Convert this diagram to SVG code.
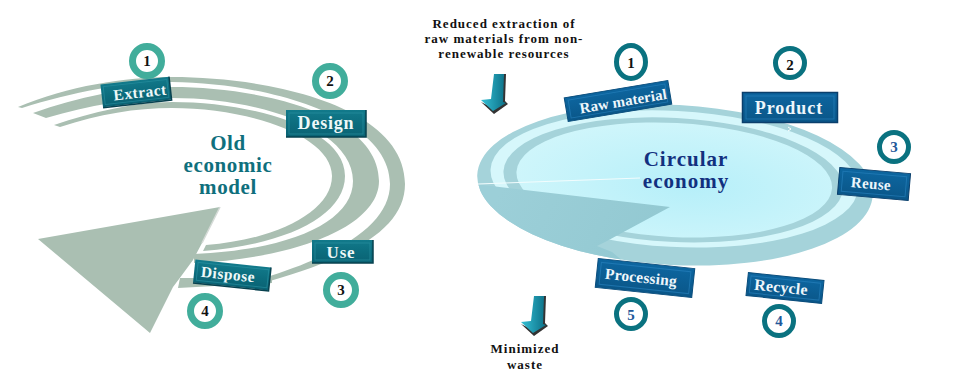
<svg xmlns="http://www.w3.org/2000/svg" width="964" height="383" viewBox="0 0 964 383">
  <style>
    text { font-family: "Liberation Serif", "Times New Roman", serif; font-weight: bold; text-anchor: middle; }
    .band { fill: #aabfb2; }
    .note { font-size: 13px; fill: #111; letter-spacing: 1px; }
    .lab { fill: #eef8f8; }
    .rl { fill: #eef6fb; }
    .ol { stroke: #41ad9b; stroke-width: 7; fill: #fff; }
    .cr { stroke: #0a7280; stroke-width: 5; fill: #fff; }
    .n { font-size: 15px; fill: #111; }
    .nb { font-size: 15px; fill: #22589a; }
    .bt { fill: none; stroke: #2b93a4; stroke-width: 1; stroke-opacity: 0.6; }
    .bb { fill: none; stroke: #2a83c0; stroke-width: 1; stroke-opacity: 0.6; }
    .edge { fill: none; stroke: #07414f; stroke-width: 1.5; }
  </style>
  <defs>
    <linearGradient id="teal" x1="0" y1="0" x2="0" y2="1">
      <stop offset="0" stop-color="#127a8b"/>
      <stop offset="0.5" stop-color="#0c6d7e"/>
      <stop offset="1" stop-color="#0a6273"/>
    </linearGradient>
    <linearGradient id="blue" x1="0" y1="0" x2="0" y2="1">
      <stop offset="0" stop-color="#0d66a0"/>
      <stop offset="1" stop-color="#0a5688"/>
    </linearGradient>
    <radialGradient id="pool" cx="0.55" cy="0.55" r="0.6">
      <stop offset="0" stop-color="#b6eff9"/>
      <stop offset="1" stop-color="#d0f6fb"/>
    </radialGradient>
    <linearGradient id="wedge" gradientUnits="userSpaceOnUse" x1="500" y1="190" x2="640" y2="260">
      <stop offset="0" stop-color="#9ccfd8"/>
      <stop offset="1" stop-color="#93c9d2"/>
    </linearGradient>
    <linearGradient id="shaft" x1="0" y1="0" x2="1" y2="0">
      <stop offset="0" stop-color="#34c1d6"/>
      <stop offset="1" stop-color="#0c6f86"/>
    </linearGradient>
    <clipPath id="pool-edge">
      <ellipse cx="675" cy="185" rx="198" ry="80" transform="rotate(3 675 185)"/>
    </clipPath>
    <g id="drop">
      <path fill="#333" d="M504,74 L506,74 L505,101 L508,104 L494,114 L481,102 L493,108 Z"/>
      <path fill="url(#shaft)" d="M494,74 L504,74 L503,102 L506,103 L493,111 L481,100 L491,99 Z"/>
    </g>
  </defs>

  <g id="old-model-arcs">
    <path class="band" d="M18,107 C68,86 125,77 172,77 C270,77 405,106 405,184 C405,226 358,256 270,281 L270,276 C345,252 390,222 390,184 C390,118 270,83 172,82 C125,82 72,92 22,108 Z"/>
    <path class="band" d="M33,113 C78,97 125,87 172,87 C262,87 379,115 379,181 C379,225 300,258 194,263 L194,254 C290,250 353,222 353,181 C353,130 262,98 172,98 C130,98 90,105 46,118 Z"/>
    <path class="band" d="M54,125 C92,112 135,102 172,102 C252,102 345,128 345,176 C345,216 285,245 203,251 L206,245 C275,240 332,212 332,176 C332,136 250,108 172,108 C135,108 100,114 60,127 Z"/>
    <path class="band" d="M180,278 L272,278 L272,283 L178,288 Z"/>
    <path fill="#aabfb2" d="M38,239 L220,207 L202,243 L193,260 L182,275 L173,287 L150,333 Z"/>
    <path fill="none" stroke="#d5dad7" stroke-width="1.5" d="M220,207 L202,243"/>
  </g>

  <g id="circular-pool">
    <g transform="rotate(3 675 185)">
      <ellipse cx="675" cy="185" rx="198" ry="80" fill="#a5d3da"/>
      <ellipse cx="674" cy="179" rx="184" ry="68" fill="#d6f7fb"/>
      <ellipse cx="673" cy="180" rx="170" ry="62" fill="#a5d3da"/>
      <ellipse cx="674" cy="180" rx="158" ry="57" fill="url(#pool)"/>
    </g>
    <path clip-path="url(#pool-edge)" fill="url(#wedge)" d="M470,183.500 L670,207 L618,235 L607,241 L597,246 L612,252 L640,275 L470,275 Z"/>
    <path fill="none" stroke="#f2fcfd" stroke-width="1" d="M478,184 L640,178"/>
    <path fill="none" stroke="#fff" stroke-width="1" d="M788,127 L791,129 L788,131"/>
  </g>

  <g id="connectors">
    <use href="#drop"/>
    <use href="#drop" x="40" y="222"/>
  </g>

  <g id="note-extraction">
    <text class="note" x="504" y="28">Reduced extraction of</text>
    <text class="note" x="504" y="43">raw materials from non-</text>
    <text class="note" x="504" y="58">renewable resources</text>
  </g>
  <g id="note-waste">
    <text class="note" x="525" y="353">Minimized</text>
    <text class="note" x="525" y="369">waste</text>
  </g>

  <g id="title-old"><text x="228" y="150" font-size="21" fill="#0f6f7d" letter-spacing="0.6">Old</text>
    <text x="228" y="172" font-size="21" fill="#0f6f7d" letter-spacing="0.6">economic</text>
    <text x="228" y="194" font-size="21" fill="#0f6f7d" letter-spacing="0.6">model</text></g>
  <g id="title-circular"><text x="686" y="166" font-size="21" fill="#12307f" letter-spacing="1">Circular</text>
    <text x="686" y="188" font-size="21" fill="#12307f" letter-spacing="1">economy</text></g>

  <g id="extract">
    <circle class="ol" cx="147" cy="61" r="14.5"/><text class="n" x="147" y="66">1</text>
    <g transform="rotate(-6.5 136 92)">
      <rect x="101.500" y="80.500" width="69" height="23" fill="url(#teal)"/>
      <rect class="bt" x="104" y="83" width="64" height="18"/>
      <path class="edge" d="M101.500,104 H170.500 V80.500"/>
      <text class="lab" x="140" y="98" font-size="15.500" letter-spacing="0.5">Extract</text>
    </g>
  </g>
  <g id="design">
    <circle class="ol" cx="330" cy="81" r="14.500"/><text class="n" x="330" y="86">2</text>
    <rect x="286" y="110" width="80" height="27" fill="url(#teal)"/>
    <rect class="bt" x="289" y="113" width="74" height="21"/>
    <path class="edge" d="M286,137 H366 V110"/>
    <text class="lab" x="326" y="129" font-size="18" letter-spacing="0.8">Design</text>
  </g>
  <g id="use">
    <circle class="ol" cx="341" cy="290" r="14.500"/><text class="n" x="341" y="295">3</text>
    <rect x="312" y="240" width="61" height="23" fill="url(#teal)"/>
    <rect class="bt" x="315" y="243" width="55" height="17"/>
    <path class="edge" d="M312,263 H373 V240"/>
    <text class="lab" x="341" y="258" font-size="17" letter-spacing="0.8">Use</text>
  </g>
  <g id="dispose">
    <circle class="ol" cx="205" cy="311" r="14.500"/><text class="n" x="205" y="316">4</text>
    <g transform="rotate(6 232 275)">
      <rect x="194" y="263.500" width="76" height="23" fill="url(#teal)"/>
      <rect class="bt" x="197" y="266" width="71" height="18"/>
      <path class="edge" d="M194,287 H270 V263.500"/>
      <text class="lab" x="228" y="280" font-size="15.500" letter-spacing="0.5">Dispose</text>
    </g>
  </g>

  <g id="raw-material">
    <ellipse class="cr" cx="631" cy="62" rx="14.500" ry="16.500"/><text class="n" x="631" y="68">1</text>
    <g transform="rotate(-9.500 618 101)">
      <rect x="565.500" y="89" width="105" height="24" fill="url(#blue)" stroke="#0a4d7c" stroke-width="1"/>
      <rect class="bb" x="569" y="92" width="98" height="18"/>
      <text class="rl" x="623" y="107" font-size="15" letter-spacing="0.1">Raw material</text>
    </g>
  </g>
  <g id="product">
    <circle class="cr" cx="790" cy="63" r="14.500"/><text class="n" x="790" y="70">2</text>
    <rect x="742.500" y="92.500" width="95" height="30" fill="url(#blue)" stroke="#0a3f6c" stroke-width="1.500"/>
    <rect class="bb" x="746" y="96" width="88" height="23"/>
    <text class="rl" x="789" y="114" font-size="18" letter-spacing="1">Product</text>
  </g>
  <g id="reuse">
    <circle class="cr" cx="894" cy="147" r="14.500"/><text class="nb" x="894" y="152">3</text>
    <g transform="rotate(5 874 184)">
      <rect x="838.500" y="170.500" width="71" height="27" fill="url(#blue)" stroke="#0a3f6c" stroke-width="1"/>
      <rect class="bb" x="842" y="174" width="64" height="20"/>
      <text class="rl" x="871" y="189" font-size="15" letter-spacing="0.4">Reuse</text>
    </g>
  </g>
  <g id="recycle">
    <circle class="cr" cx="779" cy="321" r="14.500"/><text class="nb" x="779" y="326">4</text>
    <g transform="rotate(6 785 288)">
      <rect x="747" y="276.500" width="76" height="23" fill="url(#blue)" stroke="#0a4d7c" stroke-width="1"/>
      <rect class="bb" x="750" y="279.500" width="70" height="17"/>
      <text class="rl" x="781" y="293" font-size="16" letter-spacing="0.2">Recycle</text>
    </g>
  </g>
  <g id="processing">
    <circle class="cr" cx="631" cy="314" r="14.500"/><text class="nb" x="631" y="320">5</text>
    <g transform="rotate(6 645 278)">
      <rect x="596.500" y="263.500" width="97" height="29" fill="url(#blue)" stroke="#0a4d7c" stroke-width="1"/>
      <rect class="bb" x="600" y="267" width="90" height="22"/>
      <text class="rl" x="641" y="283" font-size="15.500" letter-spacing="0.2">Processing</text>
    </g>
  </g>
</svg>
